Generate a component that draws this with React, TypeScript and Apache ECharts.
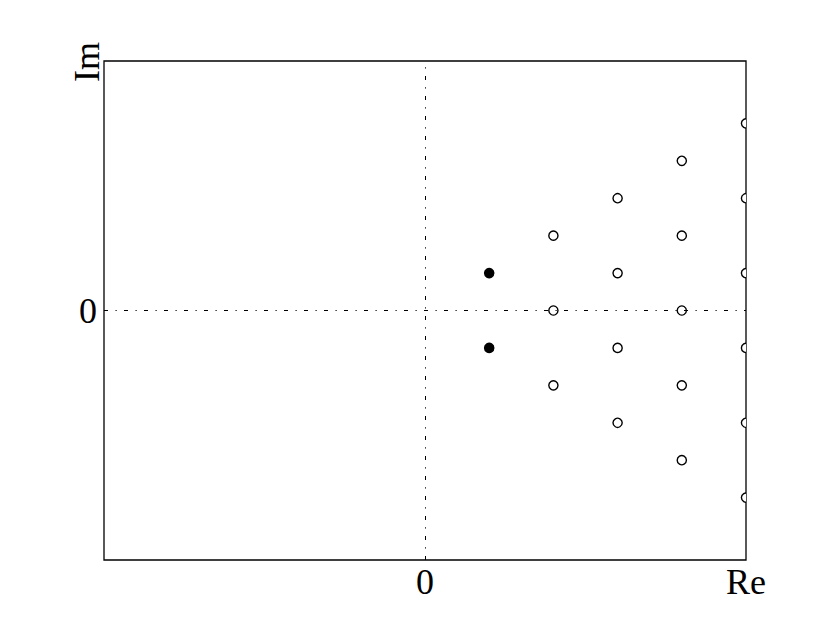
import React, { useEffect, useRef } from "react";
import * as echarts from "echarts";

// Pole (filled) and zero (open) locations in the complex plane: [Re, Im]
const poles: number[][] = [
  [1, 1],
  [1, -1],
];
const zeros: number[][] = [
  [2, 2], [2, 0], [2, -2],
  [3, 3], [3, 1], [3, -1], [3, -3],
  [4, 4], [4, 2], [4, 0], [4, -2], [4, -4],
  [5, 5], [5, 3], [5, 1], [5, -1], [5, -3], [5, -5],
];
const xRange = [-5, 5];
const yRange = [-20 / 3, 20 / 3];
const xLabels: Record<string, string> = { "0": "0", "5": "Re" };
const yLabelText = "0";
const yName = "Im";

const FONT = "Liberation Serif";

export default function App() {
  const ref = useRef<HTMLDivElement>(null);
  useEffect(() => {
    if (!ref.current) return;
    const chart = echarts.init(ref.current, undefined, { renderer: "svg" });
    const pts = [
      ...poles.map((p) => [p[0], p[1], 1]),
      ...zeros.map((p) => [p[0], p[1], 0]),
    ];
    chart.setOption({
      animation: false,
      backgroundColor: "#fff",
      grid: {
        left: 104,
        right: 84,
        top: 61,
        bottom: 63,
        show: true,
        borderColor: "#000",
        borderWidth: 1.3,
        backgroundColor: "transparent",
      },
      xAxis: {
        type: "value",
        min: xRange[0],
        max: xRange[1],
        interval: 5,
        axisLine: { show: false },
        axisTick: { show: false },
        splitLine: { show: false },
        axisLabel: {
          margin: 4,
          fontFamily: FONT,
          fontSize: 36,
          color: "#000",
          showMinLabel: true,
          showMaxLabel: true,
          formatter: (v: number) => xLabels[String(Math.round(v))] ?? "",
        },
      },
      yAxis: {
        type: "value",
        min: yRange[0],
        max: yRange[1],
        interval: 20 / 3,
        axisLine: { show: false },
        axisTick: { show: false },
        splitLine: { show: false },
        axisLabel: {
          margin: 7,
          fontFamily: FONT,
          fontSize: 36,
          color: "#000",
          formatter: (v: number) => (Math.abs(v) < 1e-6 ? yLabelText : ""),
        },
      },
      graphic: [
        {
          type: "text",
          x: 87,
          y: 62,
          rotation: Math.PI / 2,
          style: {
            text: yName,
            fontFamily: FONT,
            fontSize: 36,
            fill: "#000",
            align: "center",
            verticalAlign: "middle",
          },
        },
      ],
      series: [
        {
          type: "scatter",
          data: [],
          z: 1,
          markLine: {
            silent: true,
            symbol: "none",
            label: { show: false },
            lineStyle: { color: "#000", width: 1, type: [4, 7.5, 1.2, 7.3] },
            data: [{ xAxis: 0 }, { yAxis: 0 }],
          },
        },
        {
          type: "custom",
          z: 3,
          clip: true,
          data: pts,
          renderItem: (params: any, api: any) => {
            const c = api.coord([api.value(0), api.value(1)]);
            const filled = api.value(2) === 1;
            return {
              type: "circle",
              shape: { cx: c[0], cy: c[1], r: 4.6 },
              style: {
                fill: filled ? "#000" : "#fff",
                stroke: "#000",
                lineWidth: 1.4,
              },
            };
          },
        },
      ],
    });
    return () => chart.dispose();
  }, []);
  return (
    <div
      ref={ref}
      style={{ position: "fixed", left: 0, top: 0, width: 830, height: 623 }}
    />
  );
}
